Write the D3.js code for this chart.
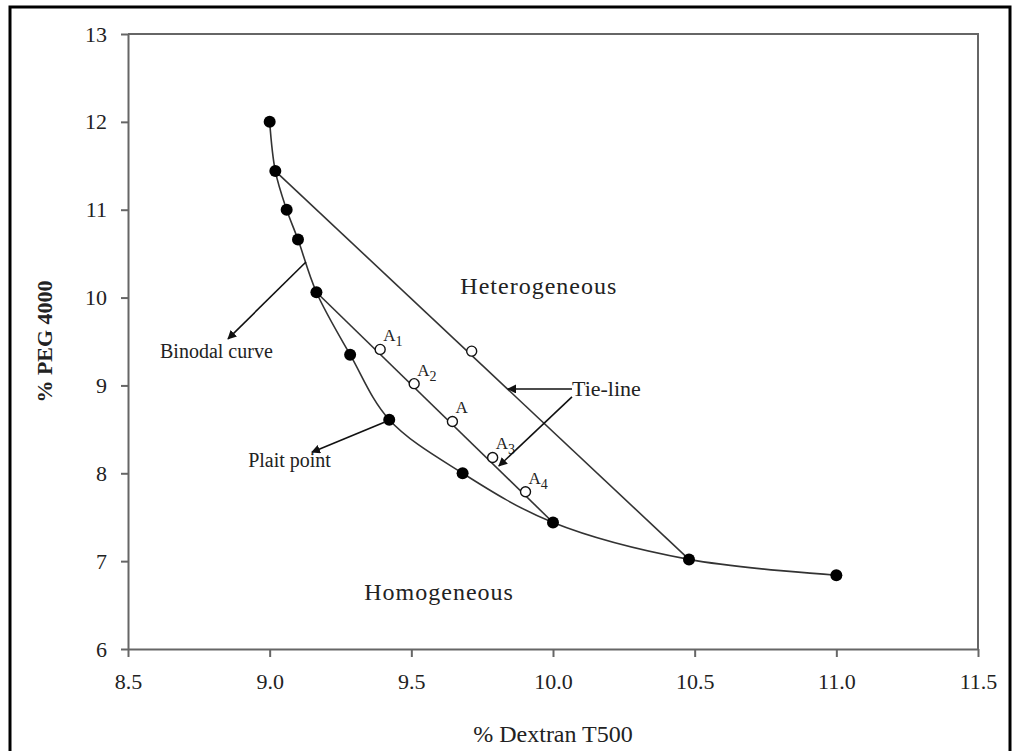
<!DOCTYPE html>
<html>
<head>
<meta charset="utf-8">
<script src="https://cdn.jsdelivr.net/npm/d3@7"></script>
<style>
  body { margin: 0; background: #fff; }
  text { font-family: "Liberation Serif", "Times New Roman", serif; fill: #222; }
</style>
</head>
<body>
<div id="chart"></div>
<script>
// binodal curve (filled points)
const binodalX = [9.0, 9.02, 9.06, 9.10, 9.165, 9.284, 9.422, 9.681, 10.0, 10.48, 11.0];
const binodalY = [12.0, 11.44, 11.0, 10.66, 10.06, 9.35, 8.61, 8.0, 7.44, 7.02, 6.84];

// upper tie-line
const tie1X = [9.02, 9.713, 10.48];
const tie1Y = [11.44, 9.39, 7.02];

// lower tie-line with the A points
const tie2X = [9.165, 9.39, 9.51, 9.645, 9.787, 9.903, 10.0];
const tie2Y = [10.06, 9.41, 9.02, 8.59, 8.18, 7.79, 7.44];
const tie2Labels = ["", "1", "2", "", "3", "4", ""];

const xTicks = [8.5, 9.0, 9.5, 10.0, 10.5, 11.0, 11.5];
const yTicks = [6, 7, 8, 9, 10, 11, 12, 13];

const WIDTH = 1015, HEIGHT = 751;
const margin = {left: 128, right: 37, top: 34, bottom: 102};

const svg = d3.select("#chart").append("svg")
    .attr("width", WIDTH)
    .attr("height", HEIGHT);

const xScale = d3.scaleLinear().domain([8.5, 11.5]).range([margin.left, WIDTH - margin.right]);
const yScale = d3.scaleLinear().domain([6, 13]).range([HEIGHT - margin.bottom, margin.top]);

// outer frame
svg.append("rect")
    .attr("x", 10).attr("y", 7)
    .attr("width", 1000).attr("height", 780)
    .attr("fill", "none").attr("stroke", "#000").attr("stroke-width", 3);

svg.append("defs").append("marker")
    .attr("id", "arrow")
    .attr("viewBox", "0 0 10 10")
    .attr("refX", 9).attr("refY", 5)
    .attr("markerWidth", 9).attr("markerHeight", 9)
    .attr("markerUnits", "userSpaceOnUse")
    .attr("orient", "auto")
    .append("path")
    .attr("d", "M0,0 L10,5 L0,10 z")
    .attr("fill", "#111");

// axes
const xAxis = svg.append("g")
    .attr("transform", `translate(0,${yScale(6)})`)
    .call(d3.axisBottom(xScale).tickValues(xTicks).tickFormat(d3.format(".1f")).tickSize(8).tickSizeOuter(0));
xAxis.attr("font-family", "Liberation Serif").attr("font-size", 22);
xAxis.selectAll("text").attr("y", 24);

const yAxis = svg.append("g")
    .attr("transform", `translate(${xScale(8.5)},0)`)
    .call(d3.axisLeft(yScale).tickValues(yTicks).tickFormat(d3.format("d")).tickSize(7).tickPadding(14).tickSizeOuter(0));
yAxis.attr("font-family", "Liberation Serif").attr("font-size", 22);

svg.selectAll(".domain, .tick line").attr("stroke", "#666").attr("stroke-width", 2);

// top and right border of the plot area
svg.append("path")
    .attr("d", `M${xScale(8.5)},${yScale(13)} H${xScale(11.5)} V${yScale(6)}`)
    .attr("fill", "none").attr("stroke", "#666").attr("stroke-width", 2);

// axis titles
svg.append("text")
    .attr("x", (xScale(8.5) + xScale(11.5)) / 2)
    .attr("y", 742)
    .attr("text-anchor", "middle")
    .style("font-size", "24px")
    .text("% Dextran T500");

svg.append("text")
    .attr("transform", `translate(52, ${yScale(9.5)}) rotate(-90)`)
    .attr("text-anchor", "middle")
    .style("font-size", "22px")
    .style("font-weight", "bold")
    .text("% PEG 4000");

// lines
const line = d3.line().x((d) => xScale(d[0])).y((d) => yScale(d[1]));
const smooth = d3.line().x((d) => xScale(d[0])).y((d) => yScale(d[1])).curve(d3.curveCatmullRom.alpha(0.5));

const binodal = binodalX.map((x, i) => [x, binodalY[i]]);
const tie1 = tie1X.map((x, i) => [x, tie1Y[i]]);
const tie2 = tie2X.map((x, i) => [x, tie2Y[i]]);

svg.append("path").attr("d", smooth(binodal))
    .attr("fill", "none").attr("stroke", "#333").attr("stroke-width", 1.6);
svg.append("path").attr("d", line([tie1[0], tie1[tie1.length - 1]]))
    .attr("fill", "none").attr("stroke", "#333").attr("stroke-width", 1.6);
svg.append("path").attr("d", line([tie2[0], tie2[tie2.length - 1]]))
    .attr("fill", "none").attr("stroke", "#333").attr("stroke-width", 1.6);

// open points on tie-lines
const openPts = [tie1[1]].concat(tie2.slice(1, -1));
svg.append("g").selectAll("circle")
    .data(openPts)
    .join("circle")
    .attr("cx", (d) => xScale(d[0]))
    .attr("cy", (d) => yScale(d[1]))
    .attr("r", 5)
    .attr("fill", "#fff")
    .attr("stroke", "#111")
    .attr("stroke-width", 1.4);

// filled points
svg.append("g").selectAll("circle")
    .data(binodal)
    .join("circle")
    .attr("cx", (d) => xScale(d[0]))
    .attr("cy", (d) => yScale(d[1]))
    .attr("r", 6)
    .attr("fill", "#000");

// A labels
const aLabels = svg.append("g").selectAll("text")
    .data(tie2.slice(1, -1).map((d, i) => ({p: d, sub: tie2Labels[i + 1]})))
    .join("text")
    .attr("x", (d) => xScale(d.p[0]) + 3)
    .attr("y", (d) => yScale(d.p[1]) - 8)
    .style("font-size", "17px");
aLabels.append("tspan").text("A");
aLabels.append("tspan")
    .attr("dy", 5)
    .style("font-size", "14px")
    .text((d) => d.sub);

// region names
svg.append("text")
    .attr("x", xScale(9.95)).attr("y", yScale(10.04))
    .attr("text-anchor", "middle")
    .style("font-size", "24px")
    .style("letter-spacing", "1px")
    .text("Heterogeneous");

svg.append("text")
    .attr("x", xScale(9.598)).attr("y", yScale(6.56))
    .attr("text-anchor", "middle")
    .style("font-size", "24px")
    .style("letter-spacing", "1px")
    .text("Homogeneous");

// annotations
svg.append("text")
    .attr("x", xScale(8.613)).attr("y", yScale(9.31))
    .style("font-size", "20px")
    .text("Binodal curve");

svg.append("text")
    .attr("x", xScale(8.924)).attr("y", yScale(8.07))
    .style("font-size", "20px")
    .text("Plait point");

svg.append("text")
    .attr("x", xScale(10.067)).attr("y", yScale(8.88))
    .style("font-size", "22px")
    .text("Tie-line");

const arrows = [
    [[9.128, 10.405], [8.853, 9.53]],
    [[9.407, 8.584], [9.149, 8.24]],
    [[10.067, 8.96], [9.841, 8.96]],
    [[10.067, 8.87], [9.809, 8.083]]
];
svg.append("g").selectAll("path")
    .data(arrows)
    .join("path")
    .attr("d", (d) => line(d))
    .attr("fill", "none")
    .attr("stroke", "#111")
    .attr("stroke-width", 1.6)
    .attr("marker-end", "url(#arrow)");
</script>
</body>
</html>
